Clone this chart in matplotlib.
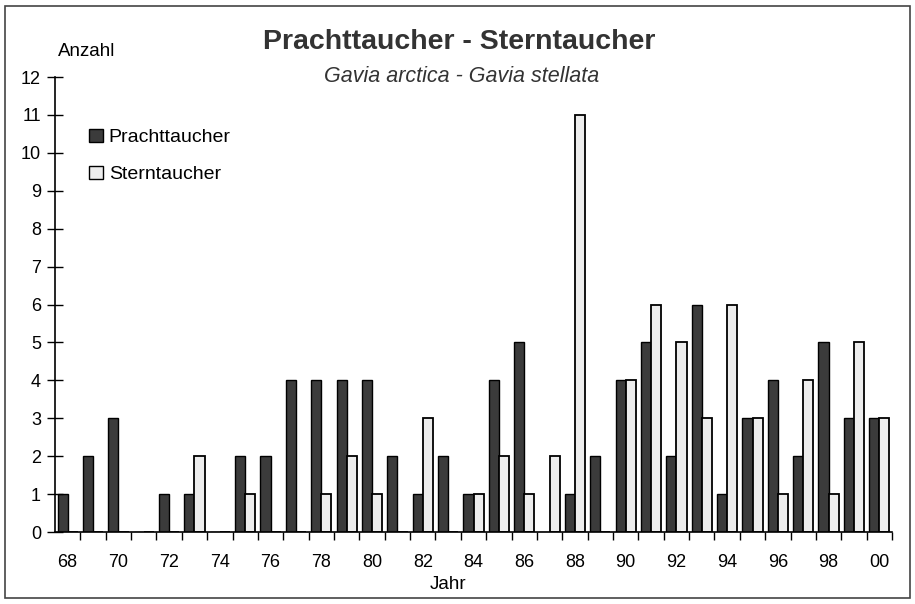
import matplotlib
matplotlib.use('Agg')
import matplotlib.pyplot as plt
from matplotlib.patches import Rectangle, Patch
import numpy as np

# data
years = ['68', '69', '70', '71', '72', '73', '74', '75', '76', '77', '78',
         '79', '80', '81', '82', '83', '84', '85', '86', '87', '88', '89',
         '90', '91', '92', '93', '94', '95', '96', '97', '98', '99', '00']
prachttaucher = [1, 2, 3, 0, 1, 1, 0, 2, 2, 4, 4, 4, 4, 2, 1, 2, 1, 4, 5, 0, 1, 2,
                 4, 5, 2, 6, 1, 3, 4, 2, 5, 3, 3]
sterntaucher = [0, 0, 0, 0, 0, 2, 0, 1, 0, 0, 1, 2, 1, 0, 3, 0, 1, 2, 1, 2, 11, 0,
                4, 6, 5, 3, 6, 3, 1, 4, 1, 5, 3]

plt.rcParams['font.family'] = ['Liberation Sans', 'DejaVu Sans']

fig = plt.figure(figsize=(9.15, 6.04), dpi=100)
ax = fig.add_axes([0.0601, 0.1192, 0.9148, 0.7533])

x = np.arange(len(years))
w = 0.4
dark = '#3b3b3b'
light = '#ededed'
ax.bar(x - w / 2, prachttaucher, w, color=dark, edgecolor='black', linewidth=1.0)
ax.bar(x + w / 2, sterntaucher, w, color=light, edgecolor='black', linewidth=1.3)

ax.set_xlim(-0.5, len(years) - 0.5)
ax.set_ylim(0, 12)
ax.set_yticks(range(0, 13))
ax.tick_params(axis='y', direction='inout', length=12, width=1, labelsize=13, pad=4)

# labels on even years, tick marks at the category boundaries
ax.set_xticks(x[::2])
ax.set_xticklabels(years[::2])
ax.set_xticks(np.arange(len(years)) + 0.5, minor=True)
ax.tick_params(axis='x', which='major', length=0, labelsize=13, pad=16)
ax.tick_params(axis='x', which='minor', direction='out', length=6, width=1)

for s in ['top', 'right']:
    ax.spines[s].set_visible(False)
ax.spines['left'].set_linewidth(1.2)
ax.spines['bottom'].set_linewidth(1.2)

fig.text(0.502, 0.93, 'Prachttaucher - Sterntaucher', ha='center', va='center',
         fontsize=20.5, fontweight='bold', color='#333333')
fig.text(0.504, 0.874, 'Gavia arctica - Gavia stellata', ha='center', va='center',
         fontsize=15.5, style='italic', color='#333333')
fig.text(0.095, 0.914, 'Anzahl', ha='center', va='center', fontsize=13.5)
fig.text(0.49, 0.032, 'Jahr', ha='center', va='center', fontsize=13.5)

handles = [Patch(facecolor=dark, edgecolor='black', label='Prachttaucher'),
           Patch(facecolor=light, edgecolor='black', label='Sterntaucher')]
ax.legend(handles=handles, loc='upper left', bbox_to_anchor=(0.02, 0.925),
          frameon=False, fontsize=14, handlelength=0.7, handleheight=0.7,
          handletextpad=0.3, labelspacing=1.0)

# frame around the whole picture
fig.patches.append(Rectangle((0.006, 0.01), 0.988, 0.98, transform=fig.transFigure,
                             fill=False, edgecolor='#444444', linewidth=1.2))

fig.savefig('out.png', dpi=100)
